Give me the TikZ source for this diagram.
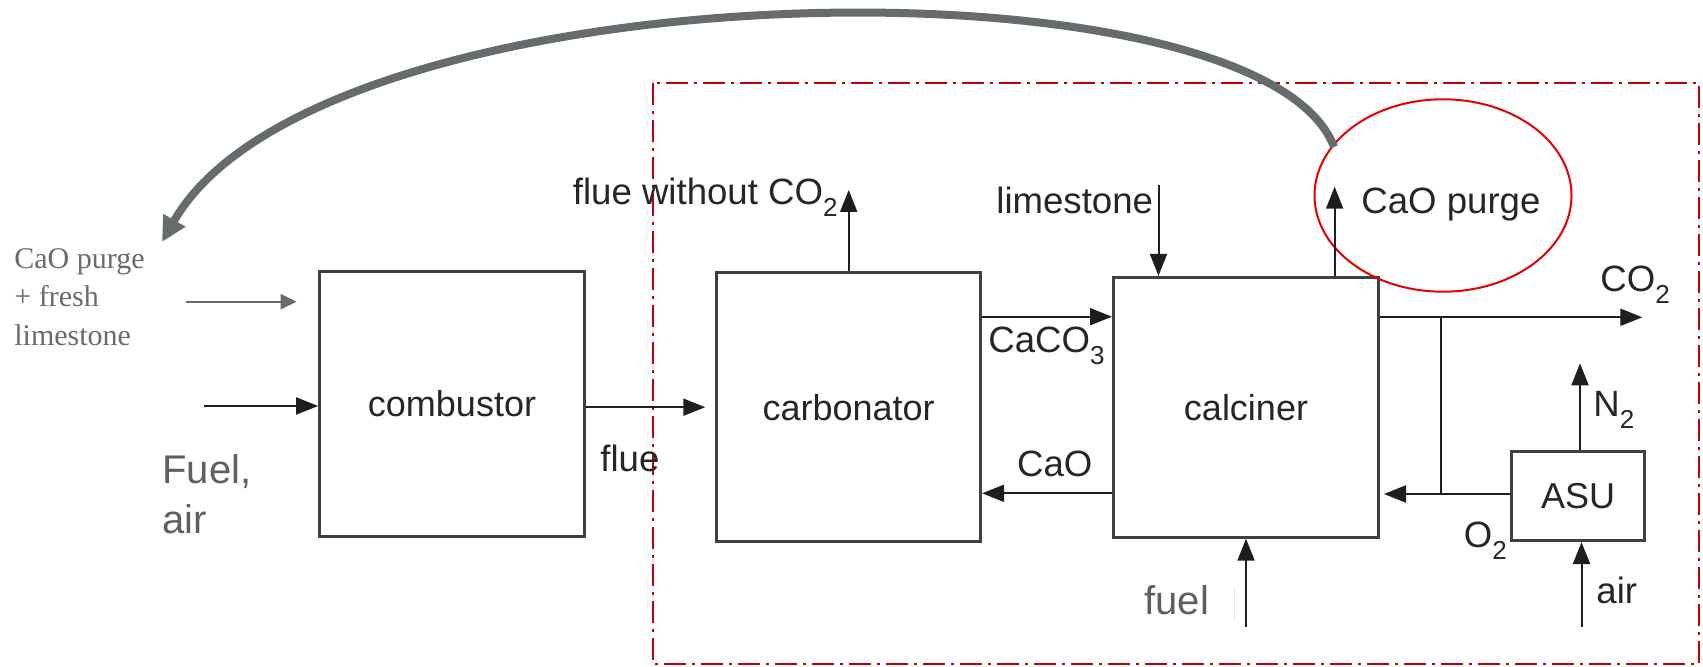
\documentclass[tikz,border=0pt]{standalone}
\usepackage{fontspec}
\setmainfont{Liberation Sans}
\newfontfamily\timesfont{Liberation Serif}
\usetikzlibrary{arrows.meta,shapes.geometric}
\definecolor{boxline}{HTML}{404040}
\definecolor{arrc}{HTML}{1E1E1E}
\definecolor{labc}{HTML}{262626}
\definecolor{graytxt}{HTML}{5F5F5F}
\definecolor{timestxt}{HTML}{6B6B6B}
\definecolor{bigc}{HTML}{666C6C}
\definecolor{regionred}{HTML}{C00000}
\definecolor{ellred}{HTML}{E60000}
\newcommand{\chsub}[1]{\raisebox{-6pt}{\fontsize{13pt}{14pt}\selectfont #1}}
\begin{document}
\begin{tikzpicture}[x=0.5pt,y=-0.5pt,
  box/.style={draw=boxline, line width=1.4pt, inner sep=0pt, text=labc,
    font=\fontsize{18pt}{21pt}\selectfont},
  arr/.style={draw=arrc, line width=1pt, -{Triangle[length=11pt,width=8.5pt]}},
  plainline/.style={draw=arrc, line width=1pt},
  grayarr/.style={draw=bigc, line width=0.9pt, -{Triangle[length=8pt,width=7.5pt]}},
  bigarr/.style={draw=bigc, line width=4pt, -{Triangle[length=12.5pt,width=12pt]}},
  lab/.style={inner sep=0pt, text=labc, font=\fontsize{18.3pt}{21pt}\selectfont},
  graylab/.style={inner sep=0pt, text=graytxt, font=\fontsize{20pt}{25pt}\selectfont},
  timeslab/.style={inner sep=0pt, text=timestxt, font=\timesfont\fontsize{15pt}{19.2pt}\selectfont},
  region/.style={draw=regionred, line width=0.8pt, dash pattern=on 11pt off 3pt on 1.5pt off 3pt},
  cursorline/.style={draw=black!12, line width=0.8pt}]
\useasboundingbox (0,0) rectangle (1703,667);

% process boxes
\node[box, minimum width=132.5pt, minimum height=132.5pt] (comb) at (452,404) {combustor};
\node[box, minimum width=132pt, minimum height=134.5pt] (carb) at (848.7,407.2) {carbonator};
\node[box, minimum width=132.6pt, minimum height=130pt] (calc) at (1246,407.3) {calciner};
\node[box, minimum width=66.5pt, minimum height=44.5pt] (asu) at (1578,496.2) {ASU};

% region and highlight
\draw[region] (653,83) rectangle (1699,664);
\node[ellipse, draw=ellred, line width=1pt, inner sep=0pt,
  minimum width=128.5pt, minimum height=96.2pt] (purgeell) at (1443,195.5) {};

% coordinates
\coordinate (fa) at (203.6,406);
\coordinate (feedA) at (186,301.7);
\coordinate (feedB) at (296.6,301.7);
\coordinate (fwo) at (849,190);
\coordinate (c3) at (1000,316.7);
\coordinate (cao) at (1000,493.3);
\coordinate (ls) at (1158.5,185);
\coordinate (pu) at (1334.6,186.7);
\coordinate (co2) at (1642.3,317.3);
\coordinate (j1) at (1441.2,317.3);
\coordinate (j2) at (1441.2,494);
\coordinate (n2) at (1580,363.3);
\coordinate (airin) at (1581.5,626.7);
\coordinate (fuelin) at (1246,626.7);
\coordinate (pstart) at (1334,147);
\coordinate (ptip) at (162,242);

% connectors
\draw[arr] (fa) -- (fa -| comb.west);
\draw[grayarr] (feedA) -- (feedB);
\draw[arr, shorten >=5pt] (comb.east |- carb.west) -- (carb.west);
\draw[arr] (carb.north) -- (carb.north |- fwo);
\draw[arr] (carb.east |- c3) -- (calc.west |- c3);
\draw[arr] (calc.west |- cao) -- (carb.east |- cao);
\draw[arr] (ls) -- (ls |- calc.north);
\draw[arr] (pu |- calc.north) -- (pu);
\draw[arr] (calc.east |- co2) -- (co2);
\draw[plainline] (j1) -- (j2);
\draw[arr, shorten >=2pt] (asu.west |- j2) -- (calc.east |- j2);
\draw[arr] (n2 |- asu.north) -- (n2);
\draw[arr] (airin) -- (airin |- asu.south);
\draw[arr] (fuelin) -- (fuelin |- calc.south);
\draw[bigarr] (pstart) .. controls (1260,-50) and (320,-35) .. (ptip);
\draw[cursorline] (1234.6,588) -- (1234.6,620);

% labels
\node[lab, anchor=base east] (lfwo) at (838,205) {flue without CO\chsub{2}};
\node[lab, anchor=base west] (lls) at (996,214) {limestone};
\node[lab, anchor=base west] (lpurge) at (1361,214) {CaO purge};
\node[lab, anchor=base west] (lc3) at (988,352.7) {CaCO\chsub{3}};
\node[lab, anchor=base west] (lcao) at (1016.7,476.7) {CaO};
\node[lab, anchor=base west] (lflue) at (600,471.7) {flue};
\node[lab, anchor=base west] (lco2) at (1600,291.7) {CO\chsub{2}};
\node[lab, anchor=base west] (ln2) at (1593,416.7) {N\chsub{2}};
\node[lab, anchor=base west] (lo2) at (1463.5,548) {O\chsub{2}};
\node[lab, anchor=base west] (lair) at (1596,603.3) {air};
\node[graylab, anchor=base west] (lfuel) at (1144,615) {fuel};
\node[graylab, anchor=north west, align=left] (lfa) at (162,454) {Fuel,\\air};
\node[timeslab, anchor=north west, align=left] (lfeed) at (14,248) {CaO purge\\+ fresh\\limestone};
\end{tikzpicture}
\end{document}
